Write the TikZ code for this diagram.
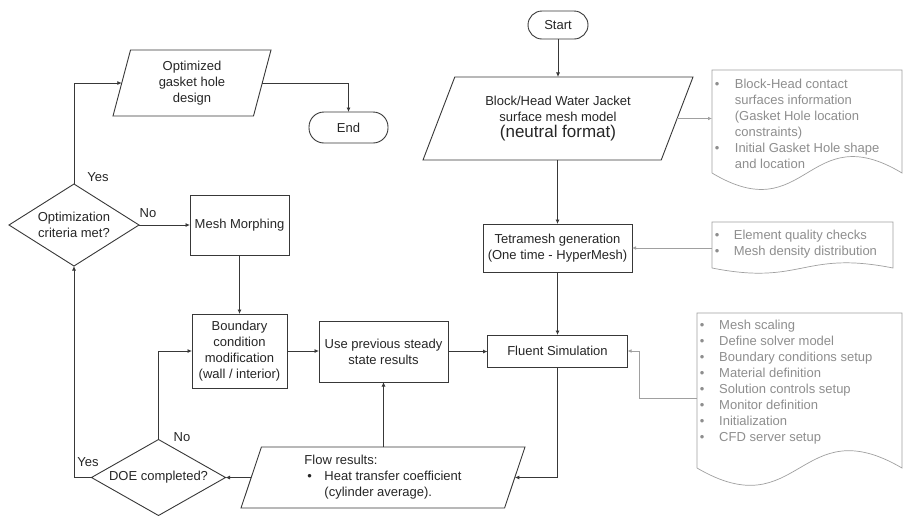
\documentclass[tikz,border=0pt]{standalone}
\usepackage{fontspec}
\setmainfont{Liberation Sans}
\usetikzlibrary{shapes.geometric,arrows.meta,calc}
\definecolor{ink}{HTML}{262626}
\definecolor{lineink}{HTML}{383838}
\definecolor{notegray}{HTML}{A0A0A0}
\definecolor{notetextc}{HTML}{8E8E8E}
\begin{document}
\begin{tikzpicture}[x=1pt,y=-1pt,
  base/.style={font=\fontsize{13}{16}\selectfont, text=ink, align=center, outer sep=0pt},
  proc/.style={base, draw=lineink, line width=0.9pt, rectangle, inner sep=2pt},
  term/.style={proc, rounded corners=14pt},
  io/.style={base, draw=lineink, line width=0.9pt, trapezium, trapezium stretches body, inner sep=2pt},
  dec/.style={base, draw=lineink, line width=0.9pt, diamond, inner sep=0pt},
  arr/.style={draw=lineink, line width=0.8pt, -{Latex[length=4.5pt,width=4pt]}},
  garr/.style={draw=notegray, line width=0.7pt, -{Latex[length=4pt,width=3.5pt]}},
  notebox/.style={rectangle, draw=none, inner sep=0pt, outer sep=0pt},
  noteline/.style={draw=notegray, line width=0.7pt},
  notetext/.style={font=\fontsize{13}{16}\selectfont, text=notetextc, align=left, inner sep=0pt, anchor=north west},
  lab/.style={font=\fontsize{13}{16}\selectfont, text=ink, inner sep=0pt}
]
\useasboundingbox[fill=white] (0,0) rectangle (904,515);

% main flow nodes
\node[term, minimum width=60pt, minimum height=28pt] (start) at (558,25) {Start};
\node[io, minimum width=270pt, minimum height=83pt, trapezium left angle=57, trapezium right angle=123] (block) at (558,118.5)
  {Block/Head Water Jacket\\surface mesh model\\{\fontsize{17}{19}\selectfont (neutral format)}};
\node[proc, minimum width=149pt, minimum height=48pt] (tetra) at (557.5,248) {Tetramesh generation\\(One time - HyperMesh)};
\node[proc, minimum width=140pt, minimum height=32pt] (fluent) at (557.5,351) {Fluent Simulation};
\node[proc, minimum width=129pt, minimum height=61pt] (use) at (383.5,351.5) {Use previous steady\\state results};
\node[proc, minimum width=95pt, minimum height=74pt] (bc) at (239.5,351) {Boundary\\condition\\modification\\(wall / interior)};
\node[proc, minimum width=99pt, minimum height=60pt] (morph) at (239.5,225) {Mesh Morphing};
\node[dec, minimum width=130pt, minimum height=82pt, aspect=1.585] (optd) at (74,225) {Optimization\\criteria met?};
\node[dec, minimum width=134pt, minimum height=76pt, aspect=1.76] (doe) at (158.5,477.5) {DOE completed?};
\node[io, minimum width=158pt, minimum height=66pt, trapezium left angle=70, trapezium right angle=110] (opt) at (192,83) {Optimized\\gasket hole\\design};
\node[term, minimum width=79pt, minimum height=31pt, rounded corners=15pt] (end) at (348.5,127.5) {End};
\node[io, minimum width=284pt, minimum height=61pt, trapezium left angle=67, trapezium right angle=113, align=left] (flow) at (383,477.5)
  {Flow results:\\\hspace*{3pt}\makebox[17pt][l]{\textbullet}Heat transfer coefficient\\\hspace*{20pt}(cylinder average).};

% branch labels
\node[lab] (yes1) at (98,177) {Yes};
\node[lab] (no1) at (148,213) {No};
\node[lab] (no2) at (182,437) {No};
\node[lab] (yes2) at (88,462) {Yes};

% main connectors
\draw[arr] (start.south) -- (start.south |- block.north);
\draw[arr] (block.south -| tetra.north) -- (tetra.north);
\draw[arr] (tetra.south) -- (fluent.north);
\draw[arr] (fluent.south) |- (flow.east);
\draw[arr] (flow.west) -- (doe.east);
\draw[arr] (flow.north -| use.south) -- (use.south);
\draw[arr] (use.east -| use.east) -- (use.east -| fluent.west);
\draw[arr] (bc.east) -- (bc.east -| use.west);
\draw[arr] (morph.south) -- (bc.north);
\draw[arr] (optd.east) -- (morph.west);
\draw[arr] (optd.north) |- (opt.west);
\draw[arr] (opt.east) -| (end.north);
\draw[arr] (doe.north) |- (bc.west);
\draw[arr] (doe.west) -| (optd.south);

% notes (document shapes)
\node[notebox, minimum width=190pt, minimum height=103pt, anchor=north west] (n1) at (712,70) {};
\draw[noteline] (n1.south west) -- (n1.north west) -- (n1.north east) -- (n1.south east)
  .. controls ($(n1.south)+(0,-57)$) and ($(n1.south)+(0,57)$) .. (n1.south west);
\node[notetext] (n1t) at (714.7,79)
  {\makebox[20pt][l]{\textbullet}Block-Head contact\\\hspace*{20pt}surfaces information\\\hspace*{20pt}(Gasket Hole location\\\hspace*{20pt}constraints)\\\makebox[20pt][l]{\textbullet}Initial Gasket Hole shape\\\hspace*{20pt}and location};

\node[notebox, minimum width=181pt, minimum height=46pt, anchor=north west] (n2) at (712,222) {};
\draw[noteline] (n2.south west) -- (n2.north west) -- (n2.north east) -- (n2.south east)
  .. controls ($(n2.south)+(0,-18)$) and ($(n2.south)+(0,18)$) .. (n2.south west);
\node[notetext] (n2t) at (714.7,230)
  {\makebox[19pt][l]{\textbullet}Element quality checks\\\makebox[19pt][l]{\textbullet}Mesh density distribution};

\node[notebox, minimum width=205pt, minimum height=155pt, anchor=north west] (n3) at (697,313) {};
\draw[noteline] (n3.south west) -- (n3.north west) -- (n3.north east) -- (n3.south east)
  .. controls ($(n3.south)+(0,-60)$) and ($(n3.south)+(0,60)$) .. (n3.south west);
\node[notetext] (n3t) at (699.7,320)
  {\makebox[19.3pt][l]{\textbullet}Mesh scaling\\
   \makebox[19.3pt][l]{\textbullet}Define solver model\\
   \makebox[19.3pt][l]{\textbullet}Boundary conditions setup\\
   \makebox[19.3pt][l]{\textbullet}Material definition\\
   \makebox[19.3pt][l]{\textbullet}Solution controls setup\\
   \makebox[19.3pt][l]{\textbullet}Monitor definition\\
   \makebox[19.3pt][l]{\textbullet}Initialization\\
   \makebox[19.3pt][l]{\textbullet}CFD server setup};
\coordinate (n3in) at (697,398);

% note connectors
\draw[garr] (block.east) -- (block.east -| n1.west);
\draw[garr] (tetra.east -| n2.west) -- (tetra.east);
\draw[garr] (n3in) -| ($(fluent.east)+(12,0)$) -- (fluent.east);
\end{tikzpicture}
\end{document}
